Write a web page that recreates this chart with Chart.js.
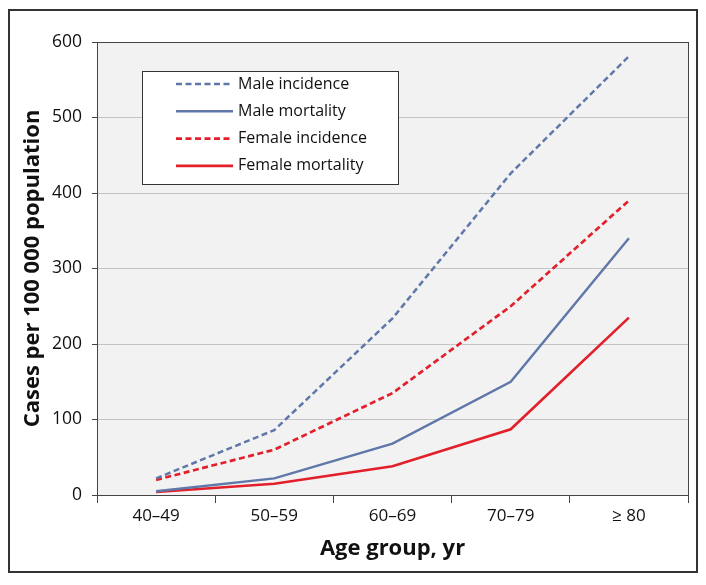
<!DOCTYPE html>
<html>
<head>
<meta charset="utf-8">
<script src="https://cdn.jsdelivr.net/npm/chart.js@4"></script>
<style>
  html, body { margin: 0; padding: 0; background: #fff; }
  #wrap { width: 706px; height: 585px; }
</style>
</head>
<body>
<div id="wrap"><canvas id="myChart" width="706" height="585"></canvas></div>
<script>
const ageGroups = ['40–49', '50–59', '60–69', '70–79', '≥ 80'];
const maleIncidence = [22, 86, 234, 426, 581];
const maleMortality = [5, 22, 68, 150, 340];
const femaleIncidence = [20, 60, 135, 250, 390];
const femaleMortality = [4, 15, 38, 87, 235];
const yTicks = [0, 100, 200, 300, 400, 500, 600];

const BLUE = '#5f77a9';
const RED = '#e2202b';
const FONT = "'Open Sans', 'Noto Sans', sans-serif";

// grey plot background + frame around everything
const framePlugin = {
  id: 'frame',
  beforeDraw(chart) {
    const {ctx, chartArea: a} = chart;
    ctx.save();
    ctx.fillStyle = '#f2f2f2';
    ctx.fillRect(a.left, a.top, a.right - a.left, a.bottom - a.top);
    ctx.restore();
  },
  afterDraw(chart) {
    const {ctx, chartArea: a} = chart;
    ctx.save();
    ctx.strokeStyle = '#444';
    ctx.lineWidth = 1;
    ctx.strokeRect(a.left + 0.5, a.top + 0.5, a.right - a.left, a.bottom - a.top);
    ctx.strokeStyle = '#333';
    ctx.lineWidth = 2;
    ctx.strokeRect(9, 10, 688, 562);
    ctx.restore();
  }
};

// legend box drawn inside the plot area
const boxLegend = {
  id: 'boxLegend',
  afterDraw(chart) {
    const ctx = chart.ctx;
    const x = 142, y = 71, w = 256, h = 113;
    ctx.save();
    ctx.fillStyle = '#fff';
    ctx.fillRect(x, y, w, h);
    ctx.strokeStyle = '#333';
    ctx.lineWidth = 1;
    ctx.strokeRect(x + 0.5, y + 0.5, w, h);
    ctx.font = '16px ' + FONT;
    ctx.textBaseline = 'middle';
    chart.data.datasets.forEach((ds, i) => {
      const ry = y + 13 + i * 27.3;
      ctx.beginPath();
      ctx.strokeStyle = ds.borderColor;
      ctx.lineWidth = ds.borderWidth;
      ctx.setLineDash(ds.borderDash || []);
      ctx.moveTo(176, ry);
      ctx.lineTo(233, ry);
      ctx.stroke();
      ctx.setLineDash([]);
      ctx.fillStyle = '#111';
      ctx.fillText(ds.label, 238, ry);
    });
    ctx.restore();
  }
};

const data = {
  labels: ageGroups,
  datasets: [
    {label: 'Male incidence', data: maleIncidence, borderColor: BLUE, borderWidth: 2.5, borderDash: [6, 3.5]},
    {label: 'Male mortality', data: maleMortality, borderColor: BLUE, borderWidth: 2.4},
    {label: 'Female incidence', data: femaleIncidence, borderColor: RED, borderWidth: 2.7, borderDash: [6, 3.5]},
    {label: 'Female mortality', data: femaleMortality, borderColor: RED, borderWidth: 2.6}
  ]
};

const config = {
  type: 'line',
  data: data,
  options: {
    responsive: false,
    animation: false,
    layout: {padding: {left: 14, top: 42, right: 18, bottom: 14}},
    elements: {point: {radius: 0}, line: {tension: 0}},
    plugins: {legend: {display: false}, tooltip: {enabled: false}},
    scales: {
      x: {
        offset: true,
        grid: {offset: true, drawOnChartArea: false, tickLength: 8, tickColor: '#444'},
        border: {color: '#444'},
        ticks: {color: '#111', font: {family: FONT, size: 17}, padding: 3},
        title: {display: true, text: 'Age group, yr', color: '#111',
          font: {family: FONT, size: 22, weight: 'bold'}, padding: {top: 0, bottom: 9}},
        afterFit(s) { s.height = 76; }
      },
      y: {
        min: 0, max: 600,
        afterBuildTicks(s) { s.ticks = yTicks.map(v => ({value: v})); },
        grid: {color: '#c4c4c4', tickLength: 5, tickColor: '#444'},
        border: {color: '#444'},
        ticks: {color: '#111', font: {family: FONT, size: 17.5}, padding: 10},
        title: {display: true, text: 'Cases per 100 000 population', color: '#111',
          font: {family: FONT, size: 22, weight: 'bold'}, padding: {top: 6, bottom: 0}},
        afterFit(s) { s.width = 83; }
      }
    }
  },
  plugins: [framePlugin, boxLegend]
};

const ctx = document.getElementById('myChart').getContext('2d');
const chart = new Chart(ctx, config);
</script>
</body>
</html>
